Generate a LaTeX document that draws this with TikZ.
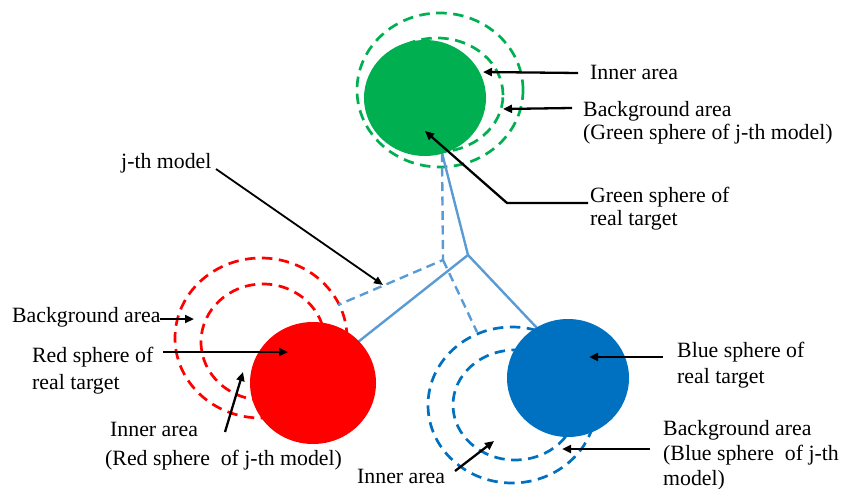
\documentclass[tikz,border=0pt]{standalone}
\usepackage{fontspec}
\setmainfont{Liberation Serif}
\usetikzlibrary{shapes.geometric,arrows.meta}

\definecolor{sgreen}{HTML}{00B050}
\definecolor{sred}{HTML}{FF0000}
\definecolor{sblue}{HTML}{0070C0}
\definecolor{link}{HTML}{5B9BD5}

\tikzset{
  sphere/.style={ellipse, inner sep=0pt, draw=none},
  ring/.style={ellipse, inner sep=0pt, line width=2.7pt, dash pattern=on 10.5pt off 6.5pt},
  solidlink/.style={link, line width=2.4pt},
  dashlink/.style={link, line width=2.4pt, dash pattern=on 9pt off 5.5pt},
  callout/.style={black, line width=2.3pt, -{Triangle[length=9pt,width=8pt]}},
  thincallout/.style={black, line width=1.8pt, -{Triangle[length=9pt,width=7.5pt]}},
  lbl/.style={anchor=base west, inner sep=0pt, font=\fontsize{21.8}{26}\selectfont}
}

\begin{document}
\begin{tikzpicture}[x=1pt, y=-1pt]
\useasboundingbox (0,0) rectangle (858,489);

% ---- dashed rings (model spheres) ----
\node[ring, draw=sgreen, minimum width=166pt, minimum height=154pt] (gout) at (440,90) {};
\node[ring, draw=sgreen, minimum width=132pt, minimum height=114pt] (gin) at (437,95) {};
\node[ring, draw=sred, minimum width=172pt, minimum height=160pt] (rout) at (261,338) {};
\node[ring, draw=sred, minimum width=124pt, minimum height=116pt] (rin) at (263,342) {};
\node[ring, draw=sblue, minimum width=168pt, minimum height=156pt] (bout) at (512,405) {};
\node[ring, draw=sblue, minimum width=124pt, minimum height=110pt] (bin) at (515,405) {};

% ---- links between spheres ----
\coordinate (gtop) at (442,153);
\coordinate (jreal) at (468,255);
\coordinate (rreal) at (358,342);
\coordinate (breal) at (537,328);
\coordinate (jmod) at (443,260);
\coordinate (rmod) at (338,305);
\coordinate (bmod) at (477,332);
\draw[solidlink] (gtop) -- (jreal) -- (rreal);
\draw[solidlink] (jreal) -- (breal);
\draw[dashlink] (gtop) -- (jmod) -- (rmod);
\draw[dashlink] (jmod) -- (bmod);

% ---- real target spheres ----
\node[sphere, fill=sgreen, minimum width=122pt, minimum height=116pt] (gsph) at (425,98) {};
\node[sphere, fill=sred, minimum width=126pt, minimum height=122pt] (rsph) at (313,383) {};
\node[sphere, fill=sblue, minimum width=122pt, minimum height=118pt] (bsph) at (568,378) {};

% ---- labels ----
\node[lbl] (ginner) at (590,80) {Inner area};
\node[lbl] (gbg) at (583,117) {Background area};
\node[lbl] (gbg2) at (583,140) {(Green sphere of j-th model)};
\node[lbl] (greal) at (590,202) {Green sphere of};
\node[lbl] (greal2) at (590,225) {real target};
\node[lbl] (jth) at (121,168) {j-th model};
\node[lbl] (rbg) at (12,322) {Background area};
\node[lbl] (rreallbl) at (32,362) {Red sphere of};
\node[lbl] (rreallbl2) at (32,389) {real target};
\node[lbl] (rinner) at (110,436) {Inner area};
\node[lbl] (rinner2) at (105,465) {(Red sphere\ \ of j-th model)};
\node[lbl] (binner) at (357,483) {Inner area};
\node[lbl] (breallbl) at (677,357) {Blue sphere of};
\node[lbl] (breallbl2) at (677,383) {real target};
\node[lbl] (bbg) at (663,435) {Background area};
\node[lbl] (bbg2) at (663,460) {(Blue sphere\ \ of j-th};
\node[lbl] (bbg3) at (663,485) {model)};

% ---- callout arrows ----
\coordinate (a1s) at (578,73);   \coordinate (a1e) at (483,72);
\coordinate (a2s) at (572,108);  \coordinate (a2e) at (503,109);
\coordinate (a3s) at (588,203);  \coordinate (a3m) at (507,203);  \coordinate (a3e) at (425,131);
\coordinate (a4s) at (216,169);  \coordinate (a4e) at (383,285);
\coordinate (a5s) at (160,319);  \coordinate (a5e) at (194,319);
\coordinate (a6s) at (163,352);  \coordinate (a6e) at (288,352);
\coordinate (a7s) at (225,432);  \coordinate (a7e) at (243,372);
\coordinate (a8s) at (455,471);  \coordinate (a8e) at (494,441);
\coordinate (a9s) at (663,357);  \coordinate (a9e) at (589,357);
\coordinate (a10s) at (650,449); \coordinate (a10e) at (562,449);

\draw[callout] (a1s) -- (a1e);
\draw[callout] (a2s) -- (a2e);
\draw[callout] (a3s) -- (a3m) -- (a3e);
\draw[thincallout] (a4s) -- (a4e);
\draw[callout] (a5s) -- (a5e);
\draw[callout] (a6s) -- (a6e);
\draw[callout] (a7s) -- (a7e);
\draw[callout] (a8s) -- (a8e);
\draw[callout] (a9s) -- (a9e);
\draw[callout] (a10s) -- (a10e);
\end{tikzpicture}
\end{document}
